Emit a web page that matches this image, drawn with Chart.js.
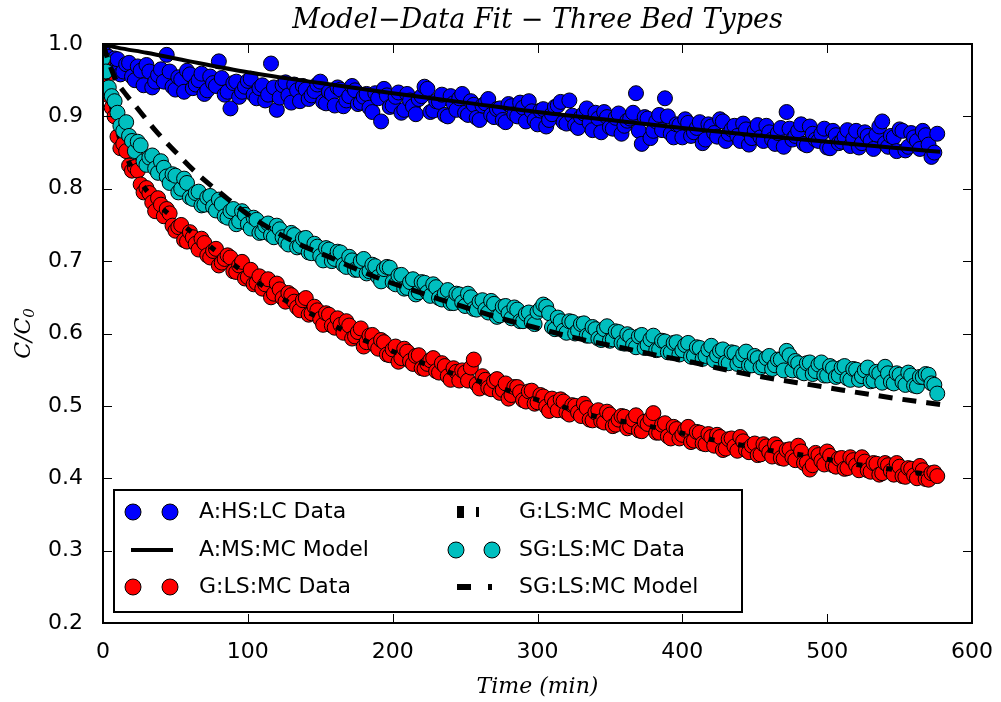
<!DOCTYPE html>
<html lang="en">
<head>
  <meta charset="UTF-8" />
  <title>Model-Data Fit - Three Bed Types</title>
  <style>
    html, body { margin: 0; padding: 0; background: #fff; }
    #fitChart { display: block; }
  </style>
</head>
<body>
  <canvas id="fitChart" width="1001" height="702"></canvas>

  <script src="https://cdn.jsdelivr.net/npm/chart.js"></script>
  <script>
    // sample times (min): even samples and the in-between ones
    const timeMin = [
      0,4,8,12,16,20,24,28,32,36,
      40,44,48,52,56,60,64,68,72,76,
      80,84,88,92,96,100,104,108,112,116,
      120,124,128,132,136,140,144,148,152,156,
      160,164,168,172,176,180,184,188,192,196,
      200,204,208,212,216,220,224,228,232,236,
      240,244,248,252,256,260,264,268,272,276,
      280,284,288,292,296,300,304,308,312,316,
      320,324,328,332,336,340,344,348,352,356,
      360,364,368,372,376,380,384,388,392,396,
      400,404,408,412,416,420,424,428,432,436,
      440,444,448,452,456,460,464,468,472,476,
      480,484,488,492,496,500,504,508,512,516,
      520,524,528,532,536,540,544,548,552,556,
      560,564,568,572,576
    ];
    const timeMid = [
      2,6,10,14,18,22,26,30,34,38,
      42,46,50,54,58,62,66,70,74,78,
      82,86,90,94,98,102,106,110,114,118,
      122,126,130,134,138,142,146,150,154,158,
      162,166,170,174,178,182,186,190,194,198,
      202,206,210,214,218,222,226,230,234,238,
      242,246,250,254,258,262,266,270,274,278,
      282,286,290,294,298,302,306,310,314,318,
      322,326,330,334,338,342,346,350,354,358,
      362,366,370,374,378,382,386,390,394,398,
      402,406,410,414,418,422,426,430,434,438,
      442,446,450,454,458,462,466,470,474,478,
      482,486,490,494,498,502,506,510,514,518,
      522,526,530,534,538,542,546,550,554,558,
      562,566,570,574
    ];

    // A:HS:LC data (blue)
    const aData = [
      0.998,0.982,0.980,0.958,0.972,0.955,0.969,0.943,0.962,0.948,
      0.965,0.985,0.941,0.954,0.934,0.958,0.944,0.959,0.936,0.946,
      0.976,0.930,0.911,0.948,0.934,0.949,0.930,0.939,0.922,0.973,
      0.909,0.943,0.929,0.944,0.921,0.937,0.929,0.944,0.920,0.934,
      0.915,0.937,0.922,0.942,0.917,0.927,0.912,0.932,0.893,0.929,
      0.915,0.933,0.909,0.922,0.903,0.928,0.938,0.908,0.920,0.902,
      0.928,0.909,0.931,0.902,0.916,0.895,0.918,0.902,0.910,0.895,
      0.917,0.903,0.919,0.893,0.907,0.889,0.910,0.895,0.913,0.920,
      0.890,0.901,0.884,0.904,0.891,0.905,0.878,0.899,0.883,0.904,
      0.887,0.897,0.932,0.862,0.897,0.880,0.902,0.925,0.876,0.889,
      0.871,0.891,0.878,0.892,0.868,0.886,0.872,0.893,0.876,0.887,
      0.866,0.882,0.870,0.888,0.866,0.878,0.862,0.884,0.906,0.868,
      0.880,0.862,0.886,0.868,0.876,0.857,0.880,0.863,0.872,0.859,
      0.880,0.863,0.873,0.855,0.886,0.863,0.873,0.852,0.880,0.858,
      0.871,0.855,0.874,0.844,0.876
    ];
    const aDataMid = [
      0.985,0.970,0.979,0.962,0.974,0.950,0.963,0.971,0.940,0.957,
      0.948,0.962,0.937,0.951,0.963,0.939,0.950,0.931,0.955,0.942,
      0.953,0.934,0.946,0.927,0.941,0.952,0.925,0.943,0.930,0.940,
      0.926,0.947,0.919,0.936,0.942,0.924,0.935,0.948,0.918,0.931,
      0.940,0.914,0.928,0.936,0.919,0.931,0.906,0.925,0.938,0.913,
      0.927,0.905,0.931,0.914,0.924,0.941,0.906,0.921,0.930,0.900,
      0.918,0.925,0.905,0.921,0.898,0.915,0.924,0.899,0.911,0.892,
      0.914,0.900,0.912,0.921,0.895,0.908,0.886,0.903,0.915,0.892,
      0.922,0.888,0.899,0.911,0.881,0.897,0.906,0.885,0.898,0.876,
      0.894,0.905,0.880,0.899,0.870,0.893,0.881,0.900,0.871,0.888,
      0.896,0.873,0.884,0.863,0.889,0.877,0.896,0.866,0.882,0.873,
      0.890,0.861,0.880,0.871,0.887,0.868,0.877,0.858,0.883,0.873,
      0.889,0.860,0.876,0.866,0.883,0.856,0.874,0.865,0.881,0.869,
      0.857,0.878,0.866,0.875,0.893,0.858,0.871,0.882,0.853,0.877,
      0.866,0.880,0.861,0.850
    ];

    // G:LS:MC data (red)
    const gData = [
      0.975,0.929,0.900,0.856,0.852,0.825,0.825,0.795,0.794,0.769,
      0.778,0.772,0.749,0.747,0.729,0.740,0.724,0.731,0.708,0.714,
      0.694,0.703,0.705,0.685,0.699,0.678,0.668,0.679,0.668,0.650,
      0.669,0.649,0.656,0.644,0.632,0.649,0.628,0.632,0.612,0.626,
      0.608,0.612,0.617,0.593,0.602,0.582,0.597,0.584,0.591,0.571,
      0.578,0.561,0.579,0.562,0.569,0.552,0.558,0.566,0.546,0.555,
      0.536,0.547,0.549,0.535,0.564,0.524,0.536,0.523,0.537,0.522,
      0.510,0.526,0.519,0.506,0.521,0.505,0.513,0.493,0.504,0.509,
      0.491,0.501,0.491,0.503,0.481,0.491,0.479,0.492,0.472,0.481,
      0.485,0.472,0.487,0.465,0.475,0.490,0.463,0.476,0.455,0.468,
      0.460,0.471,0.452,0.463,0.447,0.457,0.460,0.439,0.454,0.444,
      0.457,0.439,0.445,0.432,0.447,0.436,0.447,0.428,0.439,0.429,
      0.445,0.421,0.412,0.435,0.424,0.437,0.418,0.427,0.413,0.429,
      0.418,0.429,0.411,0.421,0.405,0.421,0.410,0.421,0.403,0.414,
      0.404,0.417,0.399,0.407,0.403
    ];
    const gDataMid = [
      0.955,0.912,0.872,0.862,0.832,0.830,0.806,0.801,0.781,0.787,
      0.762,0.766,0.742,0.750,0.727,0.733,0.716,0.725,0.705,0.717,
      0.698,0.708,0.686,0.694,0.676,0.688,0.670,0.662,0.675,0.655,
      0.661,0.644,0.653,0.636,0.646,0.626,0.637,0.620,0.628,0.611,
      0.621,0.601,0.611,0.596,0.607,0.588,0.598,0.579,0.588,0.570,
      0.582,0.566,0.575,0.558,0.570,0.551,0.563,0.548,0.559,0.541,
      0.552,0.535,0.546,0.553,0.530,0.541,0.525,0.534,0.518,0.531,
      0.515,0.526,0.508,0.520,0.503,0.515,0.499,0.510,0.494,0.506,
      0.488,0.500,0.486,0.497,0.480,0.494,0.477,0.488,0.474,0.486,
      0.469,0.481,0.466,0.478,0.482,0.463,0.474,0.458,0.471,0.455,
      0.467,0.450,0.464,0.448,0.461,0.445,0.457,0.441,0.455,0.438,
      0.451,0.436,0.448,0.433,0.444,0.430,0.442,0.427,0.440,0.425,
      0.437,0.422,0.418,0.432,0.419,0.431,0.416,0.428,0.414,0.425,
      0.411,0.423,0.409,0.420,0.407,0.418,0.405,0.416,0.402,0.413,
      0.400,0.411,0.398,0.408
    ];

    // SG:LS:MC data (cyan)
    const sgData = [
      0.980,0.940,0.921,0.887,0.892,0.866,0.865,0.838,0.843,0.828,
      0.838,0.817,0.820,0.795,0.814,0.788,0.794,0.777,0.788,0.775,
      0.785,0.762,0.769,0.751,0.769,0.751,0.760,0.739,0.749,0.736,
      0.749,0.733,0.723,0.736,0.721,0.732,0.711,0.720,0.701,0.716,
      0.703,0.712,0.692,0.701,0.688,0.703,0.686,0.693,0.672,0.692,
      0.671,0.680,0.662,0.671,0.654,0.671,0.657,0.668,0.649,0.655,
      0.642,0.655,0.643,0.655,0.634,0.644,0.633,0.645,0.623,0.637,
      0.628,0.636,0.617,0.627,0.616,0.630,0.640,0.628,0.606,0.617,
      0.601,0.616,0.604,0.614,0.597,0.606,0.591,0.610,0.592,0.602,
      0.586,0.596,0.581,0.598,0.584,0.597,0.578,0.589,0.574,0.588,
      0.577,0.587,0.569,0.580,0.569,0.583,0.570,0.578,0.559,0.573,
      0.563,0.575,0.556,0.566,0.556,0.569,0.556,0.564,0.576,0.549,
      0.559,0.545,0.560,0.548,0.560,0.542,0.552,0.542,0.555,0.536,
      0.550,0.541,0.553,0.535,0.545,0.554,0.533,0.545,0.533,0.546,
      0.528,0.540,0.544,0.531,0.517
    ];
    const sgDataMid = [
      0.962,0.928,0.905,0.880,0.873,0.852,0.860,0.833,0.846,0.822,
      0.829,0.808,0.818,0.800,0.808,0.786,0.796,0.778,0.790,0.770,
      0.779,0.760,0.772,0.755,0.764,0.745,0.757,0.740,0.752,0.733,
      0.744,0.727,0.739,0.719,0.731,0.712,0.724,0.707,0.718,0.700,
      0.713,0.695,0.706,0.688,0.700,0.683,0.695,0.678,0.689,0.691,
      0.668,0.681,0.663,0.675,0.657,0.670,0.652,0.664,0.647,0.660,
      0.642,0.654,0.638,0.650,0.633,0.646,0.629,0.641,0.625,0.638,
      0.621,0.633,0.617,0.629,0.613,0.634,0.637,0.609,0.622,0.604,
      0.617,0.600,0.613,0.597,0.609,0.593,0.606,0.590,0.603,0.587,
      0.599,0.584,0.596,0.580,0.592,0.577,0.590,0.574,0.587,0.571,
      0.584,0.568,0.581,0.565,0.578,0.563,0.576,0.560,0.574,0.558,
      0.571,0.556,0.569,0.553,0.566,0.551,0.564,0.549,0.570,0.562,
      0.547,0.559,0.544,0.557,0.542,0.555,0.540,0.553,0.538,0.551,
      0.536,0.549,0.534,0.547,0.532,0.545,0.531,0.543,0.529,0.542,
      0.527,0.540,0.543,0.529
    ];

    // model curves
    const aModelTime = [0, 10, 30, 60, 100, 150, 200, 250, 300, 350, 400, 450, 500, 550, 578];
    const aModel     = [1.0, 0.995, 0.988, 0.976, 0.961, 0.946, 0.932, 0.919, 0.906, 0.895, 0.884, 0.874, 0.865, 0.856, 0.851];

    const gModelTime = [0, 4, 8, 15, 25, 40, 55, 69, 89, 108, 129, 152, 174, 198, 221, 244, 268, 292, 317, 341, 366, 389, 414, 440, 465, 490, 514, 539, 564, 578];
    const gModel     = [1.0, 0.935, 0.895, 0.850, 0.812, 0.775, 0.750, 0.728, 0.697, 0.669, 0.642, 0.619, 0.596, 0.577, 0.559, 0.543, 0.529, 0.513, 0.499, 0.485, 0.476, 0.467, 0.456, 0.446, 0.437, 0.430, 0.421, 0.414, 0.407, 0.403];

    const sgModelTime = [0, 4, 9, 16, 23, 36, 51, 66, 83, 99, 117, 137, 157, 176, 196, 217, 236, 257, 278, 297, 318, 337, 359, 382, 405, 425, 447, 467, 489, 510, 532, 552, 578];
    const sgModel     = [1.0, 0.975, 0.950, 0.930, 0.913, 0.881, 0.849, 0.819, 0.791, 0.766, 0.743, 0.722, 0.705, 0.688, 0.672, 0.658, 0.645, 0.632, 0.619, 0.609, 0.598, 0.589, 0.580, 0.570, 0.561, 0.552, 0.543, 0.536, 0.529, 0.522, 0.515, 0.509, 0.502];

    const xTicks = [0, 100, 200, 300, 400, 500, 600];
    const yTicks = [0.2, 0.3, 0.4, 0.5, 0.6, 0.7, 0.8, 0.9, 1.0];

    const labels = ['A:HS:LC Data', 'A:MS:MC Model', 'G:LS:MC Data', 'G:LS:MC Model', 'SG:LS:MC Data', 'SG:LS:MC Model'];
    const colors = { a: '#0000ff', g: '#ff0000', sg: '#00bfbf' };

    const pts = (xs, ys) => xs.map((t, i) => ({ x: t, y: ys[i] }));

    function dataSet(label, ys, ysMid, color, order) {
      const data = pts(timeMin, ys).concat(pts(timeMid, ysMid)).sort((p, q) => p.x - q.x);
      return {
        label, data, order,
        pointRadius: 7.5, pointBackgroundColor: color,
        pointBorderColor: '#000', pointBorderWidth: 1,
        showLine: false, clip: 0
      };
    }
    function modelSet(label, xs, ys, dash, order) {
      return {
        label, data: pts(xs, ys), order,
        showLine: true, pointRadius: 0, borderColor: '#000',
        borderWidth: dash ? 5 : 4, borderDash: dash || [],
        cubicInterpolationMode: 'monotone', clip: 0
      };
    }

    const serif = '"DejaVu Serif", "Liberation Serif", serif';
    const sans = '"DejaVu Sans", sans-serif';

    // title, axis labels, inward ticks, frame and the two-column legend
    const decor = {
      id: 'decor',
      afterDraw(chart) {
        const { ctx, chartArea: a, scales: { x, y } } = chart;
        ctx.save();
        ctx.strokeStyle = '#000';
        ctx.lineWidth = 1;
        ctx.beginPath();
        xTicks.forEach(v => {
          const px = Math.round(x.getPixelForValue(v)) + 0.5;
          ctx.moveTo(px, a.bottom); ctx.lineTo(px, a.bottom - 9);
          ctx.moveTo(px, a.top); ctx.lineTo(px, a.top + 9);
        });
        yTicks.forEach(v => {
          const py = Math.round(y.getPixelForValue(v)) + 0.5;
          ctx.moveTo(a.left, py); ctx.lineTo(a.left + 9, py);
          ctx.moveTo(a.right, py); ctx.lineTo(a.right - 9, py);
        });
        ctx.stroke();
        ctx.lineWidth = 2;
        ctx.strokeRect(a.left, a.top, a.right - a.left, a.bottom - a.top);

        ctx.fillStyle = '#000';
        ctx.textAlign = 'center';
        ctx.textBaseline = 'middle';
        ctx.font = 'italic 27px ' + serif;
        ctx.fillText('Model\u2212Data Fit \u2212 Three Bed Types', (a.left + a.right) / 2, 21);
        ctx.font = 'italic 22px ' + serif;
        ctx.fillText('Time (min)', (a.left + a.right) / 2, 687);

        // y label C/C0, rotated
        ctx.save();
        ctx.translate(24, (a.top + a.bottom) / 2);
        ctx.rotate(-Math.PI / 2);
        ctx.textAlign = 'left';
        ctx.font = 'italic 22px ' + serif;
        const mainW = ctx.measureText('C/C').width;
        ctx.font = 'italic 15px ' + serif;
        const subW = ctx.measureText('0').width;
        const x0 = -(mainW + subW) / 2;
        ctx.font = 'italic 22px ' + serif;
        ctx.fillText('C/C', x0, 0);
        ctx.font = 'italic 15px ' + serif;
        ctx.fillText('0', x0 + mainW, 6);
        ctx.restore();

        // legend
        const box = { l: 114, t: 490, r: 742, b: 612 };
        ctx.fillStyle = '#fff';
        ctx.fillRect(box.l, box.t, box.r - box.l, box.b - box.t);
        ctx.lineWidth = 2;
        ctx.strokeRect(box.l, box.t, box.r - box.l, box.b - box.t);
        const rows = [512, 550, 587];
        const dot = (cx, cy, c) => {
          ctx.beginPath(); ctx.arc(cx, cy, 8, 0, Math.PI * 2);
          ctx.fillStyle = c; ctx.fill();
          ctx.lineWidth = 1; ctx.strokeStyle = '#000'; ctx.stroke();
        };
        dot(133, rows[0], colors.a); dot(170, rows[0], colors.a);
        ctx.fillStyle = '#000';
        ctx.fillRect(131, rows[1] - 2, 42, 4);
        dot(133, rows[2], colors.g); dot(170, rows[2], colors.g);
        ctx.fillStyle = '#000';
        ctx.fillRect(457, rows[0] - 6, 7, 12);
        ctx.fillRect(476, rows[0] - 5, 3, 10);
        dot(456, rows[1], colors.sg); dot(492, rows[1], colors.sg);
        ctx.fillStyle = '#000';
        ctx.fillRect(457, rows[2] - 3, 14, 6);
        ctx.fillRect(488, rows[2] - 3, 4, 6);

        ctx.fillStyle = '#000';
        ctx.textAlign = 'left';
        ctx.font = '22px ' + sans;
        ctx.fillText(labels[0], 199, rows[0]);
        ctx.fillText(labels[1], 199, rows[1]);
        ctx.fillText(labels[2], 199, rows[2]);
        ctx.fillText(labels[3], 519, rows[0]);
        ctx.fillText(labels[4], 519, rows[1]);
        ctx.fillText(labels[5], 519, rows[2]);
        ctx.restore();
      }
    };

    new Chart(document.getElementById('fitChart').getContext('2d'), {
      type: 'scatter',
      data: {
        datasets: [
          dataSet(labels[0], aData, aDataMid, colors.a, 6),
          modelSet(labels[1], aModelTime, aModel, null, 5),
          dataSet(labels[2], gData, gDataMid, colors.g, 4),
          modelSet(labels[3], gModelTime, gModel, [6, 24], 3),
          dataSet(labels[4], sgData, sgDataMid, colors.sg, 2),
          modelSet(labels[5], sgModelTime, sgModel, [14, 10], 1)
        ]
      },
      options: {
        responsive: false,
        animation: false,
        layout: { padding: { left: 0, right: 29, top: 44, bottom: 0 } },
        plugins: { legend: { display: false }, tooltip: { enabled: false } },
        scales: {
          x: {
            type: 'linear', min: 0, max: 600,
            afterBuildTicks: s => { s.ticks = xTicks.map(v => ({ value: v })); },
            afterFit: s => { s.height = 79; },
            grid: { display: false },
            border: { display: false },
            ticks: { color: '#000', font: { family: sans, size: 22 }, padding: 8 }
          },
          y: {
            type: 'linear', min: 0.2, max: 1.0,
            afterBuildTicks: s => { s.ticks = yTicks.map(v => ({ value: v })); },
            afterFit: s => { s.width = 103; },
            grid: { display: false },
            border: { display: false },
            ticks: { color: '#000', font: { family: sans, size: 22 }, padding: 12,
                     callback: v => v.toFixed(1) }
          }
        }
      },
      plugins: [decor]
    });
  </script>
</body>
</html>
